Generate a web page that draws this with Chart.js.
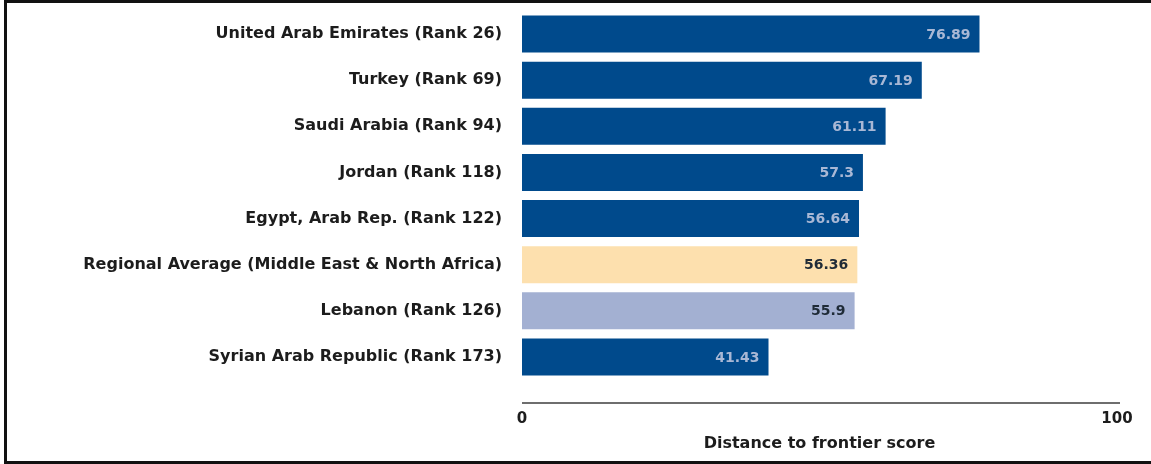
<!DOCTYPE html>
<html>
<head>
<meta charset="utf-8">
<script src="https://cdn.jsdelivr.net/npm/chart.js@4/dist/chart.umd.min.js"></script>
<style>
  body { margin: 0; background: #fff; overflow: hidden; }
  #wrap { position: relative; width: 1151px; height: 464px; overflow: hidden; }
  #frame {
    position: absolute; left: 4px; top: 0; width: 1160px; height: 464px;
    box-sizing: border-box; border: 3px solid #111; border-right: none;
    pointer-events: none;
  }
  canvas { position: absolute; left: 0; top: 0; }
</style>
</head>
<body>
<div id="wrap">
  <canvas id="dtfChart" width="1151" height="464"></canvas>
  <div id="frame"></div>
</div>
<script>
const economies = [
  "United Arab Emirates (Rank 26)",
  "Turkey (Rank 69)",
  "Saudi Arabia (Rank 94)",
  "Jordan (Rank 118)",
  "Egypt, Arab Rep. (Rank 122)",
  "Regional Average (Middle East & North Africa)",
  "Lebanon (Rank 126)",
  "Syrian Arab Republic (Rank 173)"
];
const scores = [76.89, 67.19, 61.11, 57.3, 56.64, 56.36, 55.9, 41.43];
const xTicks = [0, 100];

const DARK = "#004a8c";
const barColors = economies.map(name => {
  if (name.startsWith("Regional")) return "#fde0ae";
  if (name.startsWith("Lebanon")) return "#a3b0d2";
  return DARK;
});

// score printed inside the right end of each bar
const valueLabels = {
  id: "valueLabels",
  afterDatasetsDraw(chart) {
    const ctx = chart.ctx;
    const meta = chart.getDatasetMeta(0);
    ctx.save();
    ctx.font = "bold 14px 'DejaVu Sans'";
    ctx.textAlign = "right";
    ctx.textBaseline = "middle";
    meta.data.forEach((bar, i) => {
      ctx.fillStyle = barColors[i] === DARK ? "#a9b8d5" : "#1f2b37";
      ctx.fillText(String(scores[i]), bar.x - 9, bar.y + 1);
    });
    ctx.restore();
  }
};

// the x axis line sits a little below the last bar
const axisLine = {
  id: "axisLine",
  afterDraw(chart) {
    const { ctx, chartArea } = chart;
    const x = chart.scales.x;
    const y = chartArea.bottom + 23;
    ctx.save();
    ctx.strokeStyle = "#6e6e6e";
    ctx.lineWidth = 2;
    ctx.beginPath();
    ctx.moveTo(x.left, y);
    ctx.lineTo(x.right + 3, y);
    ctx.stroke();
    ctx.restore();
  }
};

new Chart(document.getElementById("dtfChart"), {
  type: "bar",
  data: {
    labels: economies,
    datasets: [{
      data: scores,
      backgroundColor: barColors,
      barPercentage: 0.8,
      categoryPercentage: 1.0
    }]
  },
  options: {
    indexAxis: "y",
    responsive: false,
    animation: false,
    devicePixelRatio: 1,
    layout: { padding: { top: 11, right: 34, bottom: 0, left: 0 } },
    plugins: {
      legend: { display: false },
      tooltip: { enabled: false }
    },
    scales: {
      y: {
        grid: { display: false, drawTicks: false },
        border: { display: false },
        ticks: {
          color: "#1c1c1c",
          padding: 20,
          font: { family: "'DejaVu Sans'", size: 16, weight: "bold" }
        },
        afterFit(scale) {
          scale.width = 522;
          scale.paddingTop = 0;
          scale.paddingBottom = 0;
        }
      },
      x: {
        min: xTicks[0],
        max: xTicks[xTicks.length - 1],
        grid: { display: false, drawTicks: false },
        border: { display: false },
        afterBuildTicks(scale) {
          scale.ticks = xTicks.map(v => ({ value: v }));
        },
        ticks: {
          color: "#1c1c1c",
          padding: 30,
          font: { family: "'DejaVu Sans'", size: 15, weight: "bold" }
        },
        title: {
          display: true,
          text: "Distance to frontier score",
          color: "#1c1c1c",
          padding: { top: 0, bottom: 11 },
          font: { family: "'DejaVu Sans'", size: 16, weight: "bold" }
        },
        afterFit(scale) {
          scale.height = 84;
          scale.paddingLeft = 0;
          scale.paddingRight = 0;
        }
      }
    }
  },
  plugins: [valueLabels, axisLine]
});
</script>
</body>
</html>
